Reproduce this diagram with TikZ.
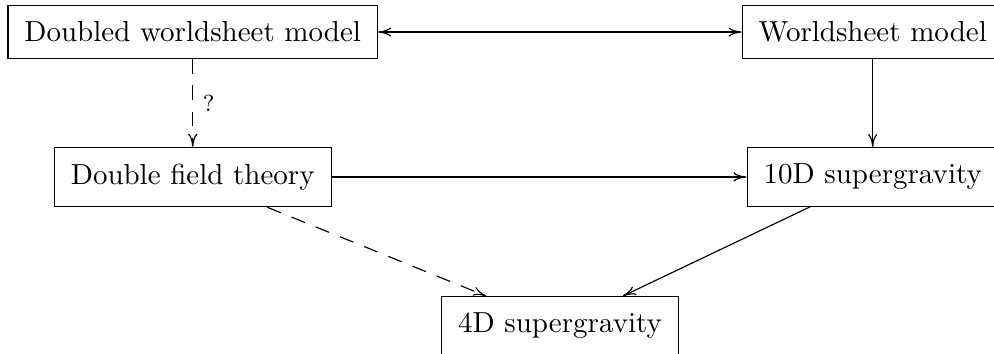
\documentclass[tikz,border=0pt]{standalone}
\usepackage{tikz}
\usetikzlibrary{arrows.meta}

\begin{document}
\begin{tikzpicture}[
  box/.style={draw, inner sep=2mm},
  link/.style={-{To[length=4.5pt,width=3.2pt]}},
  guess/.style={link, dash pattern=on 5pt off 4pt}
]
\useasboundingbox (0,0) rectangle (12.047,-4.290);

\node[box] (dws) at (2.336,-0.388) {Doubled worldsheet model};
\node[box] (ws) at (10.577,-0.388) {Worldsheet model};
\node[box] (dft) at (2.336,-2.145) {Double field theory};
\node[box] (sugra10) at (10.577,-2.145) {10D supergravity};
\node[box] (sugra4) at (6.787,-3.951) {4D supergravity};

\draw[{To[length=4.5pt,width=3.2pt]}-{To[length=4.5pt,width=3.2pt]}] (dws) -- (ws);
\draw[guess] (dws) -- node[right,font=\footnotesize] {?} (dft);
\draw[link] (ws) -- (sugra10);
\draw[link] (dft) -- (sugra10);
\draw[guess] (dft) -- (sugra4);
\draw[link] (sugra10) -- (sugra4);
\end{tikzpicture}
\end{document}
